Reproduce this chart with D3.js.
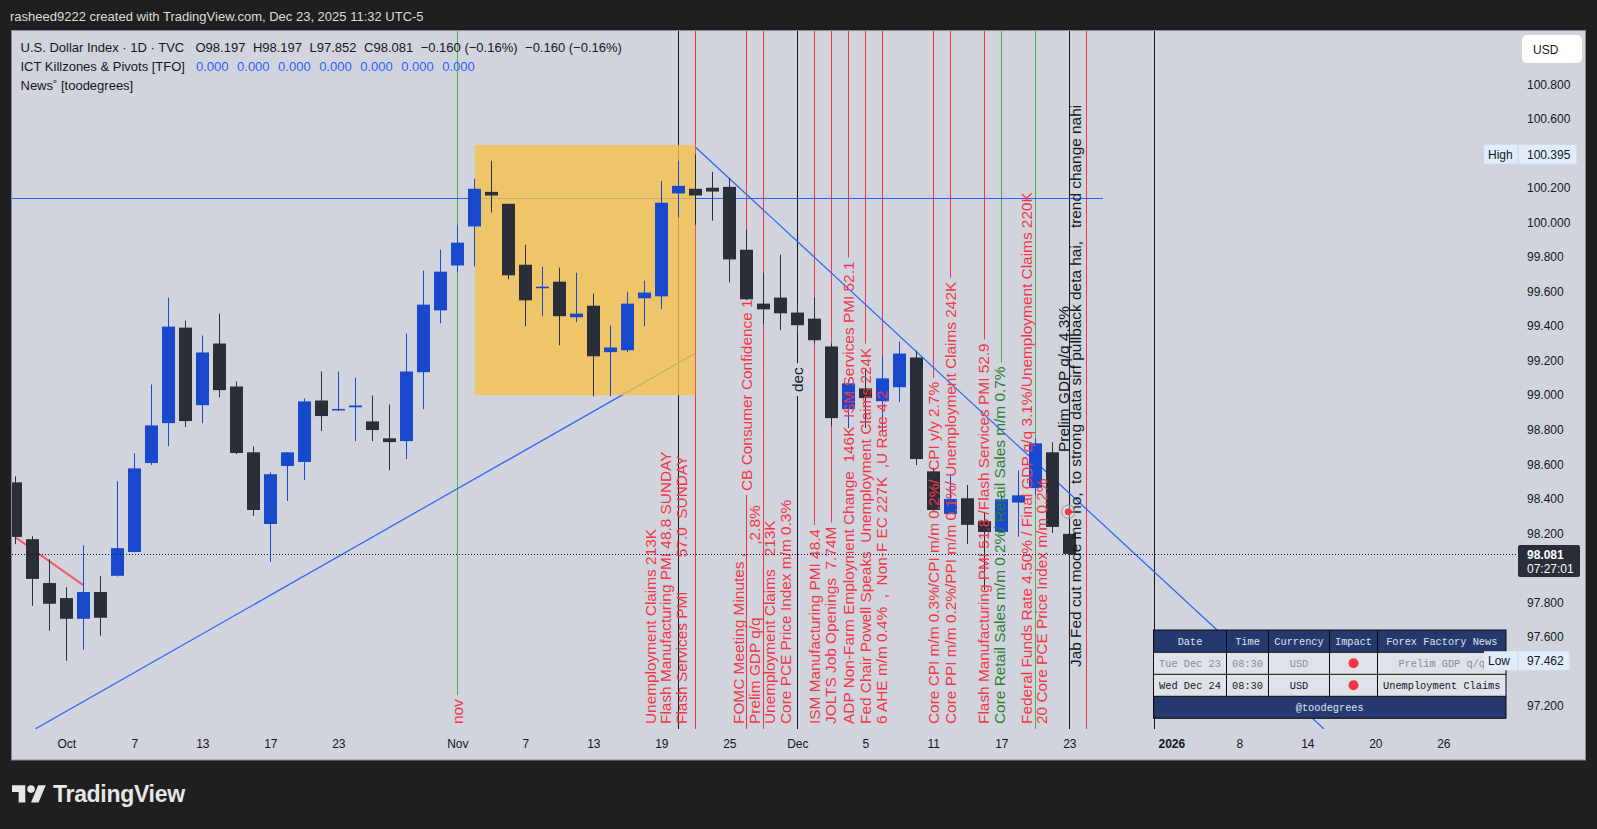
<!DOCTYPE html>
<html><head><meta charset="utf-8">
<script src="https://cdn.jsdelivr.net/npm/d3@7"></script>
<style>
html,body{margin:0;padding:0;background:#1f1f1f;overflow:hidden}
svg{display:block}
</style></head><body>
<svg id="c" width="1597" height="829"></svg>
<script>
// ---------------- DATA ----------------
const creditText = "rasheed9222 created with TradingView.com, Dec 23, 2025 11:32 UTC-5";
const legendTitle = "U.S. Dollar Index · 1D · TVC";
const legendValues = ["O98.197", "H98.197", "L97.852", "C98.081", "\u22120.160 (\u22120.16%)", "\u22120.160 (\u22120.16%)"];
const ictTitle = "ICT Killzones & Pivots [TFO]";
const ictValues = ["0.000", "0.000", "0.000", "0.000", "0.000", "0.000", "0.000"];
const newsTitle = "News\u02DA [toodegrees]";

// bar index 0 = Oct 1, 2025 (daily bars)
const firstBar = -3;
const opens  = [98.495,98.166,97.912,97.825,97.705,97.860,97.954,98.092,98.607,98.838,99.391,98.942,99.299,99.050,98.669,98.254,98.590,98.613,98.969,98.912,98.930,98.848,98.750,98.734,99.133,99.491,99.751,99.977,100.177,100.108,99.755,99.619,99.657,99.451,99.518,99.249,99.260,99.561,99.572,100.168,100.195,100.201,100.206,99.842,99.530,99.565,99.478,99.443,99.282,98.919,99.039,98.965,99.046,99.218,98.559,98.312,98.403,98.270,98.208,98.378,98.462,98.669,98.197];
const highs  = [98.530,98.183,98.050,97.888,98.131,97.952,98.501,98.663,99.062,99.565,99.432,99.345,99.472,99.079,98.703,98.553,98.669,98.981,99.137,99.137,99.102,98.998,98.946,99.357,99.721,99.842,99.987,100.253,100.357,100.108,99.871,99.744,99.738,99.709,99.588,99.403,99.599,99.663,100.241,100.357,100.395,100.293,100.258,99.958,99.709,99.813,99.520,99.565,99.300,99.090,99.149,99.229,99.310,99.258,98.580,98.538,98.480,98.324,98.420,98.565,98.750,98.727,98.197];
const lows   = [98.137,97.780,97.636,97.462,97.526,97.607,97.950,98.090,98.595,98.705,98.815,98.838,98.988,98.659,98.301,98.035,98.387,98.509,98.792,98.910,98.734,98.734,98.566,98.630,98.919,99.416,99.711,99.746,100.058,99.671,99.399,99.457,99.289,99.422,98.994,98.994,99.249,99.399,99.497,100.029,99.987,100.010,99.653,99.550,99.410,99.376,99.360,99.300,98.821,98.810,98.810,98.790,98.960,98.595,98.330,98.310,98.139,97.870,98.200,98.181,98.422,98.202,97.852];
const closes = [98.179,97.936,97.792,97.705,97.860,97.711,98.114,98.576,98.825,99.397,98.850,99.247,99.029,98.665,98.335,98.542,98.669,98.964,98.879,98.920,98.940,98.798,98.728,99.137,99.524,99.715,99.883,100.195,100.156,99.694,99.549,99.628,99.457,99.472,99.225,99.276,99.530,99.594,100.114,100.212,100.156,100.179,99.786,99.555,99.497,99.474,99.405,99.318,98.867,99.068,98.983,99.097,99.241,98.630,98.335,98.399,98.249,98.208,98.397,98.420,98.721,98.237,98.081];

const timeTicks  = [0, 4, 8, 12, 16, 23, 27, 31, 35, 39, 43, 47, 51, 55, 59, 65, 69, 73, 77, 81];
const timeLabels = ["Oct","7","13","17","23","Nov","7","13","19","25","Dec","5","11","17","23","2026","8","14","20","26"];
// visible price-scale labels (98.000 and 97.400 are covered by the last-price and Low tags)
const priceTicks = [97.2,97.6,97.8,98.2,98.4,98.6,98.8,99.0,99.2,99.4,99.6,99.8,100.0,100.2,100.4,100.6,100.8];

const lastPrice = 98.081;
const lastCountdown = "07:27:01";
const highValue = 100.395;
const lowValue = 97.462;

// vertical news lines (bar index, colour kind)
const newsLines = [
  {bar:23,kind:"green"},{bar:36,kind:"black"},{bar:37,kind:"red"},{bar:40,kind:"red"},{bar:41,kind:"red"},
  {bar:43,kind:"black"},{bar:44,kind:"red"},{bar:45,kind:"red"},{bar:46,kind:"red"},{bar:47,kind:"red"},
  {bar:48,kind:"red"},{bar:51,kind:"red"},{bar:52,kind:"red"},{bar:54,kind:"red"},{bar:55,kind:"green"},
  {bar:57,kind:"green"},{bar:59,kind:"black"},{bar:60,kind:"red"},{bar:64,kind:"black"}
];
// rotated labels: anchor bar position, text, colour, base price (null = chart bottom)
const newsLabels = [
  {pos:22.98,text:"nov",kind:"red",base:null},
  {pos:34.34,text:"Unemployment Claims 213K",kind:"red",base:null},
  {pos:35.26,text:"Flash Manufacturing PMI 48.8 SUNDAY",kind:"red",base:null},
  {pos:36.16,text:"Flash Services PMI        57.0  SUNDAY",kind:"red",base:null},
  {pos:39.53,text:"FOMC Meeting Minutes ,",kind:"red",base:null},
  {pos:40.02,text:"CB Consumer Confidence 1",kind:"red",base:98.445},
  {pos:40.47,text:"Prelim GDP q/q                 ,2.8%",kind:"red",base:null},
  {pos:41.39,text:"Unemployment Claims   213K",kind:"red",base:null},
  {pos:42.32,text:"Core PCE Price Index m/m 0.3%",kind:"red",base:null},
  {pos:42.98,text:"dec",kind:"black",base:99.018},
  {pos:44.00,text:"ISM Manufacturing PMI 48.4",kind:"red",base:null},
  {pos:44.96,text:"JOLTS Job Openings  7.74M",kind:"red",base:null},
  {pos:45.99,text:"ADP Non-Farm Employment Change  146K  ISM Services PMI 52.1",kind:"red",base:null},
  {pos:46.98,text:"Fed Chair Powell Speaks  Unemployment Claims 224K",kind:"red",base:null},
  {pos:47.96,text:"6 AHE m/m 0.4%  ,  Non-F EC 227K  ,U Rate 4.2",kind:"red",base:null},
  {pos:51.00,text:"Core CPI m/m 0.3%/CPI m/m 0.2%/  CPI y/y 2.7%",kind:"red",base:null},
  {pos:51.98,text:"Core PPI m/m 0.2%/PPI m/m 0.1%/ Unemployment Claims 242K",kind:"red",base:null},
  {pos:53.94,text:"Flash Manufacturing PMI 51.8 /Flash Services PMI 52.9",kind:"red",base:null},
  {pos:54.92,text:"Core Retail Sales m/m 0.2%/ Retail Sales m/m 0.7%",kind:"green",base:null},
  {pos:56.49,text:"Federal Funds Rate 4.50% / Final GDP q/q 3.1%/Unemployment Claims 220K",kind:"red",base:null},
  {pos:57.37,text:"20 Core PCE Price Index m/m 0.2%",kind:"red",base:null},
  {pos:58.65,text:"Prelim GDP q/q 4.3%",kind:"black",base:98.671},
  {pos:59.34,text:"Jab Fed cut mode me ho,  to strong data sirf pullback deta hai,   trend change nahi",kind:"black",base:97.426}
];

// drawings (bar index, price)
const risingLine  = [[-1.81, 97.068], [37.0, 99.242]];
const fallingLine = [[37.0, 100.437], [73.98, 97.067]];
const redSegment  = [[-2.96, 98.174], [1.0, 97.90]];
const levelLine   = {price:100.141, from:-4, to:60.98};
const zoneBox     = {from:24.04, to:37.0, top:100.449, bottom:99.0};
const newsMarker  = {bar:59, price:98.325};

// Forex Factory table
const tableHeader = ["Date","Time","Currency","Impact","Forex Factory News"];
const tableRows = [
  ["Tue Dec 23","08:30","USD","\u25CF","Prelim GDP q/q"],
  ["Wed Dec 24","08:30","USD","\u25CF","Unemployment Claims"]
];
const tableFooter = "@toodegrees";

// ---------------- DRAW ----------------
const W = 1597, H = 829;
const FONT = "'Liberation Sans', Arial, sans-serif";
const MONO = "'Liberation Mono', 'DejaVu Sans Mono', monospace";
const C = {red:"#f23645", green:"#4caf50", black:"#131722"};
const TC = {red:"#f23645", green:"#2e7d32", black:"#131722"};
const svg = d3.select("#c");

svg.append("rect").attr("width",W).attr("height",H).attr("fill","#1f1f1f");
svg.append("text").attr("x",10).attr("y",21).attr("fill","#dcdcdc")
  .style("font",`13px ${FONT}`).text(creditText);

// panel
svg.append("rect").attr("x",11.5).attr("y",30.5).attr("width",1574).attr("height",729.5)
  .attr("fill","#d1d4dc").attr("stroke","#8c8f98");

const plot = {l:12, r:1518, t:31, b:729};
const x = d3.scaleLinear().domain([0,1]).range([66.3,83.3]);
const y = d3.scaleLinear().domain([97.2,100.8]).range([706,84.3]);

svg.append("defs").append("clipPath").attr("id","pc").append("rect")
  .attr("x",plot.l).attr("y",plot.t).attr("width",plot.r-plot.l).attr("height",plot.b-plot.t);

const linesG  = svg.append("g").attr("clip-path","url(#pc)");
const boxG    = svg.append("g").attr("clip-path","url(#pc)");
const candleG = svg.append("g").attr("clip-path","url(#pc)");
const labelG  = svg.append("g").attr("clip-path","url(#pc)");
const topG    = svg.append("g").attr("clip-path","url(#pc)");

// labels first (measure)
const labelInfo = newsLabels.map(d => {
  const bx = x(d.pos);
  const by = d.base === null ? 724 : y(d.base);
  const t = labelG.append("text")
    .attr("transform",`translate(${bx},${by}) rotate(-90)`)
    .attr("dy","0.36em")
    .attr("fill",TC[d.kind])
    .attr("xml:space","preserve")
    .style("white-space","pre")
    .style("font",`15.4px ${FONT}`)
    .text(d.text);
  const len = t.node().getComputedTextLength();
  return {pos:d.pos, top:by-len, bottom:by};
});

// vertical lines with gaps where their own label sits
newsLines.forEach(l => {
  const lx = Math.round(x(l.bar)) + 0.5;
  const gaps = labelInfo.filter(g => Math.abs(g.pos - l.bar) < 0.15)
    .map(g => [g.top-4, g.bottom >= 720 ? plot.b : g.bottom+4]).sort((a,b)=>a[0]-b[0]);
  let y0 = plot.t;
  const segs = [];
  gaps.forEach(g => { if (g[0] > y0) segs.push([y0,g[0]]); y0 = Math.max(y0,g[1]); });
  if (y0 < plot.b) segs.push([y0,plot.b]);
  segs.forEach(s => linesG.append("line").attr("x1",lx).attr("x2",lx).attr("y1",s[0]).attr("y2",s[1])
    .attr("stroke",C[l.kind]).attr("stroke-width",1));
});

// trend lines
const lineGen = d3.line().x(d=>x(d[0])).y(d=>y(d[1]));
linesG.append("path").attr("d",lineGen(risingLine)).attr("stroke","#2962ff").attr("fill","none").attr("stroke-width",1.2);
linesG.append("path").attr("d",lineGen(fallingLine)).attr("stroke","#2962ff").attr("fill","none").attr("stroke-width",1.2);
linesG.append("line").attr("x1",x(levelLine.from)).attr("x2",x(levelLine.to))
  .attr("y1",Math.round(y(levelLine.price))+0.5).attr("y2",Math.round(y(levelLine.price))+0.5)
  .attr("stroke","#2962ff").attr("stroke-width",1);
linesG.append("path").attr("d",lineGen(redSegment)).attr("stroke","#f05a62").attr("fill","none").attr("stroke-width",2);

// zone box
boxG.append("rect").attr("x",x(zoneBox.from)).attr("y",y(zoneBox.top))
  .attr("width",x(zoneBox.to)-x(zoneBox.from)).attr("height",y(zoneBox.bottom)-y(zoneBox.top))
  .attr("fill","#f6c04c").attr("opacity",0.8);

// candles
const bars = opens.map((o,k)=>({i:firstBar+k,o,h:highs[k],l:lows[k],c:closes[k]}));
const bull = "#1848cc", bear = "#2a2e39";
bars.forEach(b => {
  const cx = Math.round(x(b.i));
  const col = b.c >= b.o ? bull : bear;
  candleG.append("rect").attr("x",cx).attr("width",1)
    .attr("y",y(b.h)).attr("height",Math.max(1,y(b.l)-y(b.h))).attr("fill",col);
  const top = y(Math.max(b.o,b.c)), bot = y(Math.min(b.o,b.c));
  candleG.append("rect").attr("x",cx-6).attr("width",13)
    .attr("y",top).attr("height",Math.max(1.5,bot-top)).attr("fill",col);
});
labelG.raise();
topG.raise();

// last price dotted line
const ly = Math.round(y(lastPrice))+0.5;
topG.append("line").attr("x1",plot.l).attr("x2",plot.r).attr("y1",ly).attr("y2",ly)
  .attr("stroke","#131722").attr("stroke-dasharray","1 2").attr("stroke-width",1);

// news marker
topG.append("circle").attr("cx",x(newsMarker.bar)-1).attr("cy",y(newsMarker.price)).attr("r",6.5)
  .attr("fill","rgba(255,255,255,0.25)").attr("stroke","#8f929a").attr("stroke-width",1);
topG.append("circle").attr("cx",x(newsMarker.bar)-1).attr("cy",y(newsMarker.price)).attr("r",3.5).attr("fill","#f23645");

// legend
function seq(xs, yb, items, gap){
  let cx = xs;
  items.forEach(it => {
    const t = svg.append("text").attr("x",cx).attr("y",yb).attr("fill",it.c)
      .style("font",`13px ${FONT}`).text(it.t);
    cx += t.node().getComputedTextLength() + gap;
  });
}
seq(20.5, 52, [{t:legendTitle,c:"#131722"}], 8);
seq(195.5, 52, legendValues.map(v=>({t:v,c:"#131722"})), 7.5);
seq(20.5, 71, [{t:ictTitle,c:"#131722"}], 8);
seq(196, 71, ictValues.map(v=>({t:v,c:"#2962ff"})), 8.5);
seq(20.5, 90, [{t:newsTitle,c:"#131722"}], 8);

// axes
const ya = svg.append("g").attr("transform",`translate(${plot.r},0)`)
  .call(d3.axisRight(y).tickValues(priceTicks).tickFormat(d3.format(".3f")).tickSize(0).tickPadding(9));
ya.select(".domain").remove();
ya.selectAll("text").attr("fill","#131722").style("font",`12px ${FONT}`);

const xa = svg.append("g").attr("transform",`translate(0,${plot.b})`)
  .call(d3.axisBottom(x).tickValues(timeTicks).tickFormat((d,k)=>timeLabels[k]).tickSize(0).tickPadding(10));
xa.select(".domain").remove();
xa.selectAll("text").attr("fill","#131722").style("font",`12px ${FONT}`)
  .style("font-weight",(d,k)=>timeLabels[k]==="2026"?"bold":"normal");

// USD button
svg.append("rect").attr("x",1522).attr("y",35).attr("width",60).attr("height",28).attr("rx",5).attr("fill","#ffffff");
svg.append("text").attr("x",1533).attr("y",53.5).attr("fill","#131722").style("font",`12px ${FONT}`).text("USD");

// High / Low labels
function hiLo(label, value){
  const cy = y(value);
  svg.append("rect").attr("x",1484).attr("y",cy-9.5).attr("width",33.5).attr("height",19).attr("fill","#e1ecfb");
  svg.append("rect").attr("x",1518.5).attr("y",cy-9.5).attr("width",value>99?58:51).attr("height",19).attr("fill","#e1ecfb");
  svg.append("text").attr("x",1488).attr("y",cy+4.3).attr("fill","#131722").style("font",`12px ${FONT}`).text(label);
  svg.append("text").attr("x",1527).attr("y",cy+4.3).attr("fill","#131722").style("font",`12px ${FONT}`).text(d3.format(".3f")(value));
}

// table
const cols = [1153.5,1226.5,1268.5,1329.5,1377.5,1506];
const rowsY = [630,652.3,674.3,696.3,718.3];
const tg = svg.append("g");
const navy = "#26396e";
tg.append("rect").attr("x",cols[0]).attr("y",rowsY[0]).attr("width",cols[5]-cols[0]).attr("height",rowsY[1]-rowsY[0]).attr("fill",navy);
tg.append("rect").attr("x",cols[0]).attr("y",rowsY[1]).attr("width",cols[5]-cols[0]).attr("height",rowsY[3]-rowsY[1]).attr("fill","#dfe2e8");
tg.append("rect").attr("x",cols[0]).attr("y",rowsY[3]).attr("width",cols[5]-cols[0]).attr("height",rowsY[4]-rowsY[3]).attr("fill",navy);
tableHeader.forEach((h,k)=>{
  tg.append("text").attr("x",(cols[k]+cols[k+1])/2).attr("y",(rowsY[0]+rowsY[1])/2+3.6)
    .attr("text-anchor","middle").attr("fill","#dfe3ee").style("font",`10.3px ${MONO}`).text(h);
});
tableRows.forEach((r,ri)=>{
  const cy = (rowsY[ri+1]+rowsY[ri+2])/2;
  r.forEach((v,k)=>{
    const cx = (cols[k]+cols[k+1])/2;
    if (k===3) {
      tg.append("circle").attr("cx",cx).attr("cy",cy).attr("r",5).attr("fill","#f23645");
    } else {
      tg.append("text").attr("x",cx).attr("y",cy+3.6).attr("text-anchor","middle")
        .attr("fill", ri===0 ? "#8a8e97" : "#131722").style("font",`10.3px ${MONO}`).text(v);
    }
  });
});
tg.append("text").attr("x",(cols[0]+cols[5])/2).attr("y",(rowsY[3]+rowsY[4])/2+3.6)
  .attr("text-anchor","middle").attr("fill","#dfe3ee").style("font",`10.3px ${MONO}`).text(tableFooter);
// grid lines
const gl = tg.append("g").attr("stroke","#0a0a0a").attr("stroke-width",1).attr("fill","none");
gl.append("rect").attr("x",cols[0]).attr("y",rowsY[0]).attr("width",cols[5]-cols[0]).attr("height",rowsY[4]-rowsY[0]);
rowsY.slice(1,4).forEach(ry=>gl.append("line").attr("x1",cols[0]).attr("x2",cols[5]).attr("y1",ry).attr("y2",ry));
cols.slice(1,5).forEach(cx=>gl.append("line").attr("x1",cx).attr("x2",cx).attr("y1",rowsY[0]).attr("y2",rowsY[3]));

hiLo("High", highValue);
hiLo("Low", lowValue);

// last price label
svg.append("rect").attr("x",1518).attr("y",545).attr("width",62).attr("height",32).attr("rx",2).attr("fill","#2a2e39");
svg.append("text").attr("x",1527).attr("y",559).attr("fill","#ffffff").style("font",`bold 12px ${FONT}`).text(d3.format(".3f")(lastPrice));
svg.append("text").attr("x",1527).attr("y",573).attr("fill","#ffffff").style("font",`12px ${FONT}`).text(lastCountdown);

// TradingView logo
const lg = svg.append("g").attr("transform","translate(12,781.5) scale(0.95)").attr("fill","#e6e6e6");
lg.append("path").attr("d","M14 22H7V11H0V4h14v18zM28 22h-8l7.5-18h8L28 22z");
lg.append("circle").attr("cx",20).attr("cy",8).attr("r",4);
svg.append("text").attr("x",53).attr("y",802).attr("fill","#e6e6e6").style("font",`bold 23px ${FONT}`).style("letter-spacing","-0.3px").text("TradingView");
</script>
</body></html>
